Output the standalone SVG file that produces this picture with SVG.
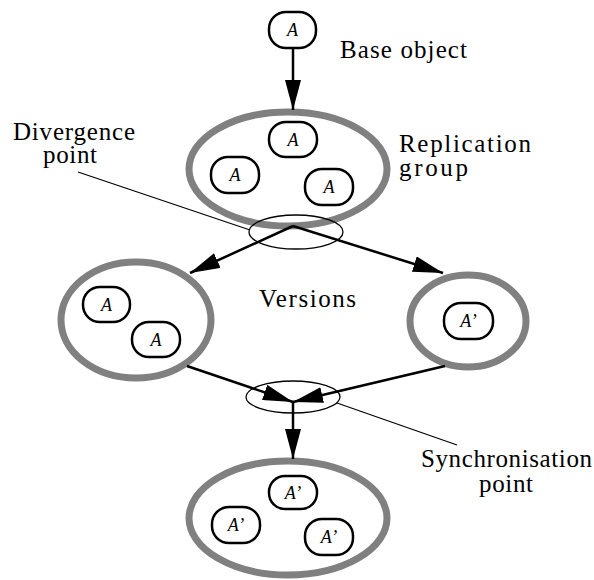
<svg xmlns="http://www.w3.org/2000/svg" width="594" height="580" viewBox="0 0 594 580">
  <style>
    .grp { fill: none; stroke: #808080; stroke-width: 7; }
    .obj rect { fill: #fff; stroke: #000; stroke-width: 2.5; }
    .obj text { font-style: italic; font-size: 18px; text-anchor: middle; fill: #000; }
    .label { font-size: 25px; fill: #000; }
    .edge { fill: none; stroke: #000; stroke-width: 2.5; }
    .leader { fill: none; stroke: #000; stroke-width: 1.2; }
    .point { fill: none; stroke: #000; stroke-width: 1.3; }
  </style>
  <defs>
    <marker id="arrow" viewBox="0 0 30 16" markerWidth="30" markerHeight="16" refX="30" refY="8" orient="auto" markerUnits="userSpaceOnUse">
      <path d="M0,0 L30,8 L0,16 Z" fill="#000"/>
    </marker>
  </defs>

  <rect width="594" height="580" fill="#fff"/>

  <!-- Group ellipses -->
  <g id="replication-group">
    <ellipse class="grp" cx="288" cy="169" rx="99" ry="57"/>
  </g>
  <g id="version-left">
    <ellipse class="grp" cx="136" cy="320" rx="75" ry="58"/>
  </g>
  <g id="version-right">
    <ellipse class="grp" cx="468" cy="321" rx="58" ry="46"/>
  </g>
  <g id="merged-group">
    <ellipse class="grp" cx="288" cy="518" rx="99" ry="57"/>
  </g>

  <!-- Connectors -->
  <g id="connectors">
    <line class="edge" x1="293" y1="48" x2="293" y2="110" marker-end="url(#arrow)"/>
    <line class="edge" x1="293" y1="226" x2="443" y2="273" marker-end="url(#arrow)"/>
    <line class="edge" x1="293" y1="226" x2="190" y2="273" marker-end="url(#arrow)"/>
    <line class="edge" x1="187" y1="366" x2="293" y2="402" marker-end="url(#arrow)"/>
    <line class="edge" x1="445" y1="366" x2="293" y2="402" marker-end="url(#arrow)"/>
    <line class="edge" x1="293" y1="402" x2="293" y2="459" marker-end="url(#arrow)"/>
    <!-- point markers and their leaders -->
    <ellipse class="point" cx="296" cy="232" rx="47" ry="17"/>
    <ellipse class="point" cx="293" cy="397" rx="47" ry="16"/>
    <line class="leader" x1="78" y1="172" x2="250" y2="230"/>
    <line class="leader" x1="337" y1="403" x2="457" y2="445"/>
  </g>

  <g font-family="'Liberation Serif', 'DejaVu Serif', 'Times New Roman', serif">
  <!-- Objects -->
  <g id="base-object" class="obj">
    <rect x="269" y="12" width="47" height="36" rx="17"/>
    <text x="292.5" y="36">A</text>
  </g>
  <g id="rep-a1" class="obj">
    <rect x="269" y="122" width="48" height="35" rx="17"/>
    <text x="293" y="145.5">A</text>
  </g>
  <g id="rep-a2" class="obj">
    <rect x="211" y="157" width="48" height="36" rx="17"/>
    <text x="235" y="181">A</text>
  </g>
  <g id="rep-a3" class="obj">
    <rect x="305" y="169" width="48" height="36" rx="17"/>
    <text x="329" y="193">A</text>
  </g>
  <g id="ver-a1" class="obj">
    <rect x="83" y="287" width="47" height="35" rx="17"/>
    <text x="106.5" y="310.5">A</text>
  </g>
  <g id="ver-a2" class="obj">
    <rect x="132" y="322" width="48" height="35" rx="17"/>
    <text x="156" y="345.5">A</text>
  </g>
  <g id="ver-a3" class="obj">
    <rect x="444" y="303" width="49" height="36" rx="17"/>
    <text x="468.5" y="327">A’</text>
  </g>
  <g id="merged-a1" class="obj">
    <rect x="269" y="476" width="48" height="33" rx="16"/>
    <text x="293" y="498.5">A’</text>
  </g>
  <g id="merged-a2" class="obj">
    <rect x="212" y="507" width="48" height="36" rx="17"/>
    <text x="236" y="531">A’</text>
  </g>
  <g id="merged-a3" class="obj">
    <rect x="305" y="519" width="48" height="36" rx="17"/>
    <text x="329" y="543">A’</text>
  </g>

  <!-- Labels -->
  <g id="labels">
    <text class="label" x="340" y="58" textLength="127">Base object</text>
    <text class="label" x="399" y="152" textLength="132">Replication</text>
    <text class="label" x="399" y="176" textLength="69">group</text>
    <text class="label" x="13" y="140" textLength="122">Divergence</text>
    <text class="label" x="43" y="163" textLength="54">point</text>
    <text class="label" x="259" y="307" textLength="97">Versions</text>
    <text class="label" x="421" y="467" textLength="171">Synchronisation</text>
    <text class="label" x="479" y="492" textLength="54">point</text>
  </g>
  </g>
</svg>
